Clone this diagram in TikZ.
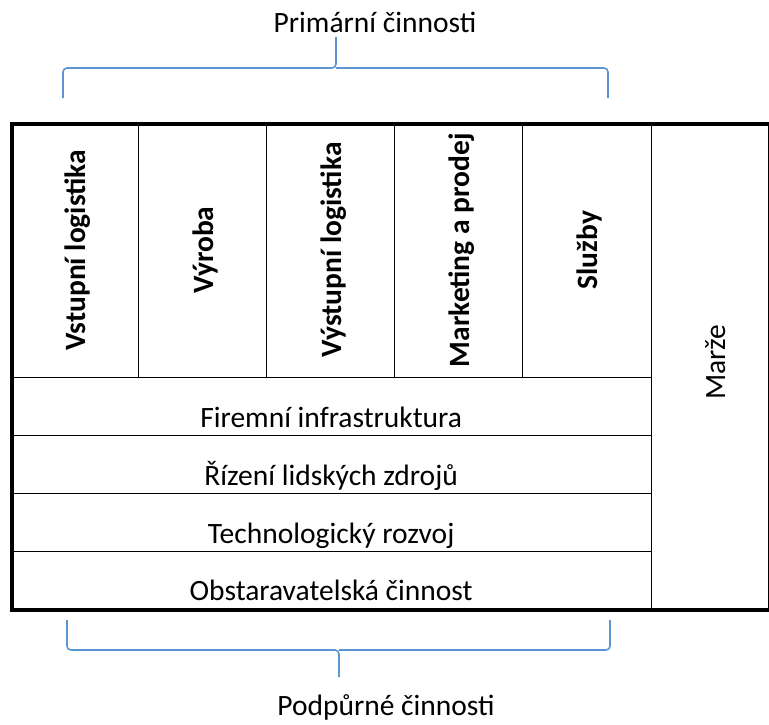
\documentclass[tikz,border=0pt]{standalone}
\usepackage{fontspec}
\setmainfont{Carlito}
\usetikzlibrary{calc}
\definecolor{bracecol}{RGB}{91,150,210}
\begin{document}
\begin{tikzpicture}[x=1pt,y=-1pt,
  txt/.style={font=\fontsize{29.5}{35}\selectfont, inner sep=0pt},
  cell/.style={draw=black, line width=1.3pt, inner sep=0pt, anchor=north west},
  frame/.style={draw=black, line width=3.6pt, inner sep=0pt, anchor=north west},
  vlabel/.style={txt, rotate=90, anchor=base, font=\fontsize{29.5}{35}\selectfont\bfseries},
  hlabel/.style={txt, anchor=base},
  bracepath/.style={draw=bracecol, line width=1.6pt, rounded corners=4pt}]
  \useasboundingbox (0,0) rectangle (769,724);

  % primary activities (columns)
  \node[cell, minimum width=128, minimum height=255] (c1) at (10,122) {};
  \node[cell, minimum width=128, minimum height=255] (c2) at (138,122) {};
  \node[cell, minimum width=128, minimum height=255] (c3) at (266,122) {};
  \node[cell, minimum width=128, minimum height=255] (c4) at (394,122) {};
  \node[cell, minimum width=129, minimum height=255] (c5) at (522,122) {};

  % support activities (rows)
  \node[cell, minimum width=641, minimum height=58] (r1) at (10,377) {};
  \node[cell, minimum width=641, minimum height=58] (r2) at (10,435) {};
  \node[cell, minimum width=641, minimum height=58] (r3) at (10,493) {};
  \node[cell, minimum width=641, minimum height=57] (r4) at (10,551) {};

  % margin column and outer frame
  \node[cell, minimum width=117, minimum height=486] (m) at (651,122) {};
  \node[frame, minimum width=758, minimum height=486] (chain) at (10,122) {};

  % column labels
  \node[vlabel] (l1) at ($(c1.center)+(10.5,0)$) {Vstupní logistika};
  \node[vlabel] (l2) at ($(c2.center)+(10.5,0)$) {Výroba};
  \node[vlabel] (l3) at ($(c3.center)+(10.5,0)$) {Výstupní logistika};
  \node[vlabel] (l4) at ($(c4.center)+(10.5,0)$) {Marketing a prodej};
  \node[vlabel] (l5) at ($(c5.center)+(10.5,0)$) {Služby};

  % row labels
  \node[hlabel] (s1) at ($(r1.south)+(0,-8.5)$) {Firemní infrastruktura};
  \node[hlabel] (s2) at ($(r2.south)+(0,-8.5)$) {Řízení lidských zdrojů};
  \node[hlabel] (s3) at ($(r3.south)+(0,-8.5)$) {Technologický rozvoj};
  \node[hlabel] (s4) at ($(r4.south)+(0,-8.5)$) {Obstaravatelská činnost};

  \node[txt, rotate=90, anchor=base] (mlab) at (725,362) {Marže};

  % braces and their captions
  \node[hlabel] (top) at (375,32) {Primární činnosti};
  \node[hlabel] (bot) at (386,715) {Podpůrné činnosti};

  \coordinate (tl) at (63,98);
  \coordinate (tr) at (608,98);
  \coordinate (tm) at (336,68);
  \coordinate (tt) at (336,37);
  \draw[bracepath] (tl) |- (tm) -- (tt);
  \draw[bracepath] (tr) |- (tm);

  \coordinate (bl) at (67,620);
  \coordinate (br) at (610,620);
  \coordinate (bm) at (339,650);
  \coordinate (bt) at (339,677);
  \draw[bracepath] (bl) |- (bm) -- (bt);
  \draw[bracepath] (br) |- (bm);
\end{tikzpicture}
\end{document}
